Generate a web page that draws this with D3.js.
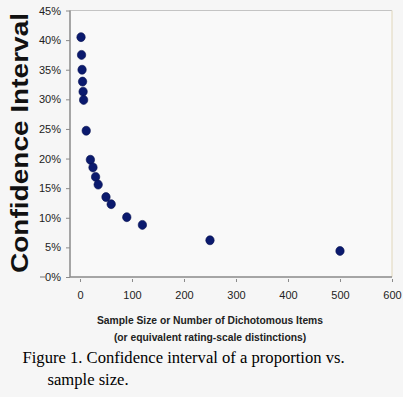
<!DOCTYPE html>
<html>
<head>
<meta charset="utf-8">
<script src="https://cdn.jsdelivr.net/npm/d3@7"></script>
<style>
  body { margin: 0; background: #f6f6f6; }
  svg { display: block; }
</style>
</head>
<body>
<div id="chart"></div>
<script>
// sample sizes and confidence intervals (in percent)
var sampleSizes = [2, 3, 4, 5, 6, 7, 12, 20, 25, 30, 35, 50, 60, 90, 120, 250, 500];
var intervals = [40.5, 37.5, 35, 33, 31.3, 29.9, 24.7, 19.8, 18.5, 16.9, 15.6, 13.5, 12.3, 10.1, 8.8, 6.2, 4.4];
var xTicks = [0, 100, 200, 300, 400, 500, 600];
var yTicks = [0, 5, 10, 15, 20, 25, 30, 35, 40, 45];

var width = 403;
var height = 397;

var svg = d3
  .select('#chart')
  .append('svg')
  .attr('width', width)
  .attr('height', height);

// plot area
var plotLeft = 70, plotRight = 392, plotTop = 10.5, plotBottom = 277;

var x_scale = d3.scaleLinear().domain([-19.2, 600]).range([plotLeft, plotRight]);
var y_scale = d3.scaleLinear().domain([0, 45]).range([plotBottom, plotTop]);

svg.append('rect')
  .attr('x', plotLeft)
  .attr('y', plotTop)
  .attr('width', plotRight - plotLeft)
  .attr('height', plotBottom - plotTop)
  .attr('fill', '#f9f9f9');

// top and right border of plot area
svg.append('line')
  .attr('x1', plotLeft).attr('x2', plotRight)
  .attr('y1', plotTop).attr('y2', plotTop)
  .attr('stroke', '#c4c4c4').attr('stroke-width', 1.2);
svg.append('line')
  .attr('x1', plotRight).attr('x2', plotRight)
  .attr('y1', plotTop).attr('y2', plotBottom)
  .attr('stroke', '#e4dcc4').attr('stroke-width', 1.2);

// y axis
var yAxis = svg.append('g')
  .attr('transform', 'translate(' + plotLeft + ',0)')
  .call(d3.axisLeft(y_scale).tickValues(yTicks).tickSize(4).tickPadding(5)
    .tickFormat(function(d) { return d + '%'; }));

// x axis
var xAxis = svg.append('g')
  .attr('transform', 'translate(0,' + plotBottom + ')')
  .call(d3.axisBottom(x_scale).tickValues(xTicks).tickSize(0).tickPadding(14));

// short tick marks hanging under the x axis
xAxis.selectAll('.tick line')
  .attr('y1', 2).attr('y2', 5);

[yAxis, xAxis].forEach(function(g) {
  g.select('.domain').attr('stroke', '#8a8a8a').attr('stroke-width', 1.5);
  g.selectAll('.tick line').attr('stroke', '#8a8a8a');
  g.selectAll('text')
    .attr('font-family', 'Liberation Sans, Arial, sans-serif')
    .attr('font-size', 11)
    .attr('fill', '#222');
});
yAxis.select('.domain').attr('d', 'M0,' + plotTop + 'V' + plotBottom);
xAxis.select('.domain').attr('d', 'M' + plotLeft + ',0H' + plotRight);

// the odd dash in front of 0%
svg.append('line')
  .attr('x1', 40).attr('x2', 45)
  .attr('y1', y_scale(0)).attr('y2', y_scale(0))
  .attr('stroke', '#8a8a8a').attr('stroke-width', 1.2);

// points
svg.selectAll('ellipse.pt')
  .data(sampleSizes)
  .enter()
  .append('ellipse')
  .attr('class', 'pt')
  .attr('cx', function(d) { return x_scale(d); })
  .attr('cy', function(d, i) { return y_scale(intervals[i]); })
  .attr('rx', 4.2)
  .attr('ry', 4.5)
  .attr('fill', '#0b1a6e')
  .attr('stroke', '#061050')
  .attr('stroke-width', 0.6);

// y title
svg.append('text')
  .attr('transform', 'translate(28,143) rotate(-90)')
  .attr('text-anchor', 'middle')
  .attr('font-family', 'Liberation Sans, Arial, sans-serif')
  .attr('font-weight', 'bold')
  .attr('font-size', 24)
  .attr('textLength', 260)
  .attr('lengthAdjust', 'spacingAndGlyphs')
  .attr('fill', '#111')
  .text('Confidence Interval');

// x title
var xTitle = ['Sample Size or Number of Dichotomous Items', '(or equivalent rating-scale distinctions)'];
svg.selectAll('text.xtitle')
  .data(xTitle)
  .enter()
  .append('text')
  .attr('class', 'xtitle')
  .attr('x', 210)
  .attr('y', function(d, i) { return 324 + i * 16.5; })
  .attr('text-anchor', 'middle')
  .attr('font-family', 'Liberation Sans, Arial, sans-serif')
  .attr('font-weight', 'bold')
  .attr('font-size', 10.3)
  .attr('fill', '#222')
  .text(function(d) { return d; });

// caption
var caption = ['Figure 1. Confidence interval of a proportion vs.', 'sample size.'];
svg.selectAll('text.caption')
  .data(caption)
  .enter()
  .append('text')
  .attr('class', 'caption')
  .attr('x', function(d, i) { return i === 0 ? 22.5 : 47.5; })
  .attr('y', function(d, i) { return 363 + i * 22; })
  .attr('font-family', 'Liberation Serif, Times New Roman, serif')
  .attr('font-size', 16.6)
  .attr('fill', '#000')
  .text(function(d) { return d; });
</script>
</body>
</html>
